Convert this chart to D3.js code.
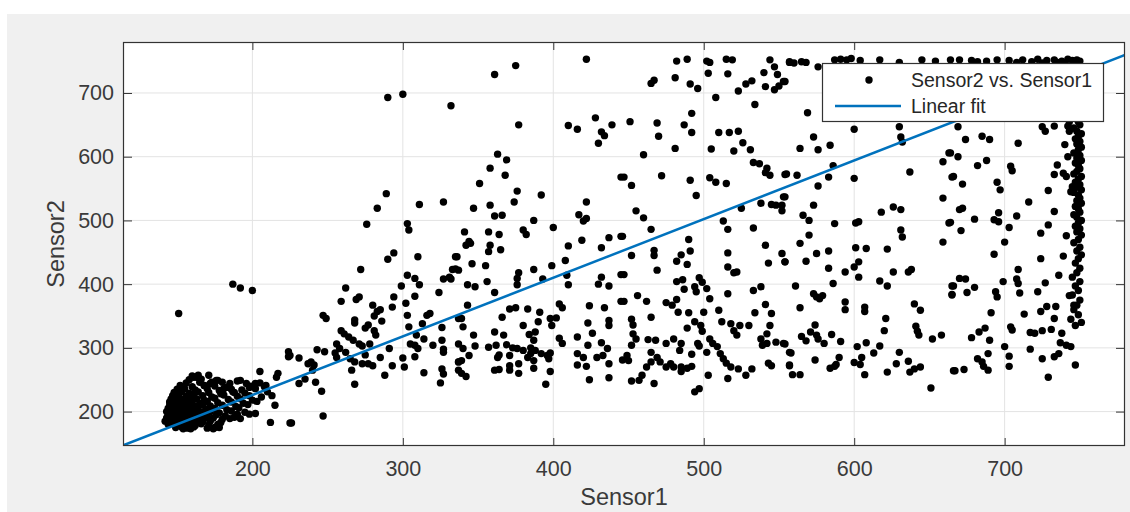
<!DOCTYPE html>
<html><head><meta charset="utf-8">
<script src="https://cdn.jsdelivr.net/npm/d3@7"></script>
<style>body{margin:0;background:#fff;} svg{display:block;font-family:"Liberation Sans",Arial,Helvetica,sans-serif;}</style>
</head><body><svg id="c" width="1130" height="512"></svg>
<script>
// ---------------- DATA ----------------
const xLabel = "Sensor1";
const yLabel = "Sensor2";
const seriesNames = ["Sensor2 vs. Sensor1", "Linear fit"];
const xTicks = [200, 300, 400, 500, 600, 700];
const yTicks = [200, 300, 400, 500, 600, 700];
const xDomain = [114, 780];
const yDomain = [146, 780];
// linear fit: Sensor2 = slope * Sensor1 + intercept
const fitSlope = 0.92;
const fitIntercept = 42;

// dense low cluster
const clusterPoints = [
[160,256],[163,254],[171,257],
[158,250],[166,251],[176,249],[190,248],
[156,245],[165,246],[172,244],[180,246],[196,244],[205,245],
[152,241],[160,239],[168,241],[175,240],[183,238],[199,240],[208,239],
[150,235],[155,236],[162,234],[170,236],[178,233],[186,235],[193,234],[202,236],
[148,230],[153,231],[158,229],[164,231],[171,230],[179,228],[188,230],[195,229],[210,231],
[147,225],[151,226],[156,224],[161,226],[167,225],[173,223],[181,226],[190,224],[198,225],[206,223],
[146,220],[150,221],[154,219],[159,221],[163,220],[168,218],[175,221],[184,219],[192,220],[200,218],
[145,215],[149,216],[152,214],[156,216],[160,215],[165,213],[170,216],[177,214],[186,215],[194,213],[203,216],
[145,210],[148,211],[151,209],[155,211],[158,210],[162,208],[167,211],[172,209],[180,210],[189,208],[197,211],
[144,205],[147,206],[150,204],[153,206],[157,205],[160,203],[164,206],[169,204],[175,205],[183,203],[191,206],
[143,200],[146,201],[149,199],[152,201],[155,200],[159,198],[163,201],[167,199],[172,200],[178,198],[186,201],[195,199],
[144,195],[147,196],[150,194],[154,196],[157,195],[161,193],[165,196],[170,194],[176,195],[182,193],[190,196],
[143,190],[146,191],[149,189],[152,191],[156,190],[160,188],[164,191],[168,189],[174,190],[180,188],[188,191],
[142,185],[145,186],[148,184],[152,186],[155,185],[159,183],[163,186],[167,184],[172,185],[179,183],
[144,180],[148,181],[151,179],[155,181],[158,180],[162,178],[166,181],[171,179],[177,180],
[149,175],[153,176],[157,174],[161,176],[170,174],[175,175],
[151,354],[187,400],[192,394],[200,390],[224,294],[224,286],[205,263],[217,260],[216,254],[192,249],
[212,183],[225,182],[215,210],[202,197],[161,254],[164,257],[151,233],[173,246],[177,249],[185,244],
[187,231],[198,238],[202,244],[209,241],[213,225],[168,241],[181,236],[185,189],[192,189],[198,196],
[154,173],[159,173],[174,173],[178,175]
];

// 225 - 340
const lowMidPoints = [
[290,693],[300,698],[332,680],[289,542],[283,519],[276,494],[303,495],[304,485],[311,525],[327,529],
[294,449],[290,439],[310,443],[272,423],[335,443],[303,414],[308,409],[311,399],[299,397],[327,408],
[331,411],[333,423],[335,424],[332,408],[262,394],[271,380],[269,376],[259,373],[294,380],[302,370],
[308,381],[324,387],[280,367],[293,364],[283,357],[285,360],[281,350],[247,351],[249,346],[268,344],
[268,339],[286,342],[277,336],[275,331],[303,351],[318,354],[316,351],[313,338],[281,327],[282,320],
[304,333],[259,327],[261,322],[264,317],[267,312],[271,306],[273,303],[278,306],[309,320],[314,314],
[305,306],[308,304],[310,299],[320,304],[326,332],[326,312],[327,298],[256,306],[258,299],[255,292],
[256,285],[262,293],[265,283],[268,278],[275,289],[273,275],[277,275],[280,272],[285,285],[291,299],
[293,272],[300,284],[301,270],[308,286],[266,265],[268,243],[288,257],[314,261],[327,293],[326,267],
[327,259],[325,245],[337,278],[337,265],[243,297],[248,294],[231,284],[237,275],[239,278],[241,273],
[240,265],[242,246],[235,251],[231,244],[246,232],[247,193],[226,182],[225,288],[337,346],[337,306]
];

// 335 - 448
const midPoints = [
[361,729],[375,743],[422,753],[377,650],[410,649],[416,643],[428,661],[439,650],[432,639],[434,633],
[430,621],[363,604],[369,595],[358,582],[368,571],[351,558],[445,568],[376,546],[374,529],[392,540],
[347,519],[358,524],[361,507],[366,508],[422,529],[417,509],[420,499],[422,503],[387,500],[380,485],
[382,478],[400,489],[341,482],[357,482],[364,478],[344,467],[345,464],[342,461],[358,461],[357,451],
[365,454],[336,443],[337,422],[346,432],[355,429],[419,469],[410,460],[437,473],[432,457],[445,475],
[408,437],[399,429],[387,423],[377,418],[376,409],[376,399],[393,408],[409,414],[410,399],[432,411],
[430,400],[437,397],[445,415],[356,404],[343,399],[348,396],[361,387],[343,367],[404,369],[406,363],
[424,366],[434,363],[445,373],[371,361],[375,363],[383,361],[391,356],[366,348],[339,346],[340,333],
[398,346],[402,347],[399,335],[390,341],[380,335],[423,339],[437,343],[437,335],[361,325],[367,320],
[347,320],[384,321],[388,325],[387,312],[404,315],[406,307],[416,317],[426,323],[340,299],[348,303],
[357,301],[362,304],[369,305],[373,300],[376,299],[380,296],[385,300],[388,296],[423,304],[432,308],
[436,299],[344,288],[337,278],[339,280],[363,285],[364,289],[371,288],[383,285],[385,291],[387,280],
[392,291],[396,288],[398,292],[397,283],[416,291],[420,285],[429,285],[433,288],[437,275],[446,281],
[377,275],[361,265],[364,266],[371,265],[371,272],[377,260],[387,268],[416,273],[422,271],[339,260],
[342,255],[398,263],[395,243],[424,250],[437,253]
];

// 445 - 558
const midHighPoints = [
[482,750],[489,753],[502,750],[504,748],[515,753],[519,752],[544,752],[547,741],[557,748],[481,724],
[467,720],[465,715],[503,731],[516,730],[540,732],[549,729],[491,714],[496,707],[532,719],[528,714],
[523,703],[541,710],[553,718],[550,711],[547,705],[508,693],[534,682],[492,668],[451,655],[469,653],
[470,632],[487,650],[492,638],[510,638],[517,638],[523,640],[526,622],[531,611],[520,609],[505,612],
[481,613],[460,603],[533,591],[537,589],[542,582],[541,575],[544,571],[554,572],[447,568],[452,555],
[472,570],[491,563],[504,567],[508,560],[515,558],[495,539],[553,537],[552,524],[538,527],[545,525],
[548,524],[552,515],[525,519],[455,515],[460,504],[465,486],[513,499],[516,486],[533,488],[446,475],
[452,445],[467,453],[467,445],[490,470],[491,452],[485,446],[482,436],[489,431],[469,422],[447,415],
[516,449],[516,427],[520,418],[522,419],[541,461],[543,433],[552,448],[554,435],[482,404],[486,407],
[497,410],[499,403],[494,396],[495,388],[502,393],[487,392],[504,377],[516,385],[533,390],[538,396],
[447,373],[456,382],[462,373],[475,371],[479,367],[482,376],[483,356],[490,355],[500,356],[510,359],
[541,368],[545,354],[534,355],[452,345],[453,336],[465,348],[489,331],[494,341],[498,335],[499,326],
[512,341],[518,338],[520,327],[522,320],[524,335],[530,335],[544,335],[542,322],[453,322],[455,314],
[452,304],[463,313],[468,312],[475,307],[480,314],[485,307],[484,296],[497,303],[496,307],[504,314],
[506,307],[509,302],[502,293],[511,291],[513,283],[515,276],[518,270],[523,267],[528,257],[532,267],
[538,314],[539,304],[542,307],[548,309],[553,307],[557,293],[557,273],[449,288],[450,280],[465,293],
[469,285],[471,278],[465,278],[462,270],[475,270],[478,275],[480,270],[485,270],[489,268],[492,271],
[485,263],[492,290],[459,257],[457,249],[452,248],[467,244],[497,236],[494,231],[503,257],[516,252],
[543,276],[545,272]
];

// 554 - 668
const highPoints = [
[557,749],[560,747],[565,749],[568,748],[576,741],[587,752],[591,753],[595,752],[598,754],[617,752],
[604,751],[630,748],[645,752],[664,752],[654,750],[554,718],[569,669],[573,631],[564,613],[576,611],
[584,618],[600,643],[630,647],[631,631],[632,623],[586,586],[555,573],[562,571],[583,568],[576,554],
[600,566],[637,576],[663,606],[659,592],[665,568],[659,535],[573,524],[554,537],[566,508],[570,500],
[587,495],[601,496],[603,498],[618,513],[626,521],[631,517],[631,485],[632,474],[663,496],[659,466],
[570,477],[564,464],[575,448],[583,452],[601,457],[608,456],[622,455],[554,435],[568,436],[583,425],
[594,419],[600,427],[603,435],[603,411],[617,405],[622,397],[626,419],[636,419],[638,423],[561,397],
[573,385],[575,380],[577,377],[579,382],[586,401],[594,372],[594,360],[607,364],[607,357],[564,363],
[640,369],[644,359],[621,346],[620,327],[574,336],[565,318],[568,311],[571,325],[575,320],[576,314],
[580,307],[585,321],[591,310],[641,334],[642,326],[643,320],[652,314],[658,320],[554,306],[558,292],
[602,302],[608,308],[617,303],[613,292],[630,293],[557,272],[559,258],[564,258],[574,281],[584,268],
[587,271],[588,274],[590,285],[600,277],[604,274],[605,285],[607,258],[622,262],[628,275],[636,279],
[637,262],[640,267],[644,270],[651,237],[666,264],[665,397],[665,384]
];

// 664 - 752 (incl. saturated band near 750)
const edgePoints = [
[670,752],[678,751],[688,750],[695,752],[703,751],[712,752],[718,749],[722,753],[728,751],[733,752],
[738,750],[742,753],[745,751],[748,752],[750,750],[735,748],[725,747],[682,749],[708,748],[740,747],
[669,647],[674,627],[685,632],[690,627],[709,621],[725,647],[727,640],[733,648],[742,648],[743,640],
[740,619],[664,606],[669,600],[682,586],[688,594],[704,585],[705,578],[666,569],[672,557],[735,587],
[733,572],[729,547],[695,560],[697,548],[716,529],[672,519],[670,517],[680,502],[696,512],[693,501],
[696,498],[708,507],[703,489],[733,514],[729,493],[724,480],[664,497],[671,484],[700,466],[693,447],
[741,476],[724,440],[739,444],[709,423],[708,408],[709,401],[699,404],[694,388],[695,380],[710,386],
[722,388],[727,402],[736,414],[670,409],[674,408],[666,397],[665,383],[675,387],[680,395],[691,355],
[713,353],[724,357],[728,365],[734,365],[733,346],[743,382],[746,367],[704,333],[705,328],[717,324],
[720,323],[725,327],[731,329],[738,323],[737,308],[741,304],[744,302],[678,316],[683,325],[687,331],
[690,312],[700,302],[717,298],[682,283],[685,278],[686,271],[689,265],[689,291],[667,264],[673,266],
[703,287],[703,271],[725,283],[733,286],[736,291],[729,254],[747,273],
[739,574],[741,569],[745,553],[744,545],[742,600],[743,655],
[749,745],[750,738],[748,730],[751,722],[747,715],[750,708],
[748,700],[750,695],[747,690],[749,685],[751,680],[746,676],[750,672],[748,668],[751,663],[747,660],
[749,655],[750,650],[746,645],[748,640],[751,636],[749,632],[747,628],[750,624],[748,620],[751,615],
[749,611],[746,606],[750,602],[748,598],[751,594],[747,590],[749,586],[750,581],[748,577],[746,573],
[751,569],[749,565],[747,560],[750,556],[748,552],[751,548],[746,544],[749,540],[750,535],[748,531],
[751,527],[747,522],[749,518],[750,513],[746,509],[748,505],[751,500],[749,496],[747,491],[750,487],
[748,482],[751,477],[749,470],[746,465],[750,458],[748,452],[751,446],[749,440],[747,433],[750,425],
[748,418],[745,411],[750,404],[747,397],[749,390],[745,383],[750,375],[748,367],[746,360],[749,352],
[744,345],[751,340],[747,335]
];

const scatterData = [].concat(clusterPoints, lowMidPoints, midPoints, midHighPoints, highPoints, edgePoints);

// ---------------- DRAW ----------------
const svg = d3.select("#c");
const W = 1130, H = 512;
const m = {left: 123, right: 1125, top: 42, bottom: 446};
const axisColor = "#333333";
const gridColor = "#e3e3e3";
const fitColor = "#0072BD";
const markerR = 3.7;

svg.append("rect").attr("x", 7).attr("y", 14).attr("width", W - 7).attr("height", H - 14).attr("fill", "#f0f0f0");
svg.append("rect").attr("x", m.left).attr("y", m.top).attr("width", m.right - m.left).attr("height", m.bottom - m.top).attr("fill", "#fff");

const x = d3.scaleLinear().domain(xDomain).range([m.left, m.right]);
const y = d3.scaleLinear().domain(yDomain).range([m.bottom, m.top]);

// grid
const grid = svg.append("g");
grid.selectAll("line.gx").data(xTicks).enter().append("line")
  .attr("x1", d => x(d)).attr("x2", d => x(d)).attr("y1", m.top).attr("y2", m.bottom)
  .attr("stroke", gridColor).attr("stroke-width", 1);
grid.selectAll("line.gy").data(yTicks).enter().append("line")
  .attr("y1", d => y(d)).attr("y2", d => y(d)).attr("x1", m.left).attr("x2", m.right)
  .attr("stroke", gridColor).attr("stroke-width", 1);

svg.append("clipPath").attr("id", "clip").append("rect")
  .attr("x", m.left).attr("y", m.top).attr("width", m.right - m.left).attr("height", m.bottom - m.top);

const plot = svg.append("g").attr("clip-path", "url(#clip)");
plot.selectAll("circle").data(scatterData).enter().append("circle")
  .attr("cx", d => x(d[0])).attr("cy", d => y(d[1])).attr("r", markerR).attr("fill", "#000");

plot.append("line")
  .attr("x1", x(xDomain[0])).attr("y1", y(fitSlope * xDomain[0] + fitIntercept))
  .attr("x2", x(xDomain[1])).attr("y2", y(fitSlope * xDomain[1] + fitIntercept))
  .attr("stroke", fitColor).attr("stroke-width", 2.5);

// axes
function styleAxis(g) {
  g.select(".domain").remove();
  g.selectAll(".tick line").attr("stroke", axisColor);
  g.selectAll(".tick text").attr("fill", "#3a3a3a").attr("font-size", 21.5)
    .attr("font-family", '"Liberation Sans", Arial, sans-serif');
}
svg.append("g").attr("transform", `translate(0,${m.bottom})`)
  .call(d3.axisBottom(x).tickValues(xTicks).tickSizeInner(-8).tickSizeOuter(0).tickPadding(15))
  .call(styleAxis);
svg.append("g").attr("transform", `translate(0,${m.top})`)
  .call(d3.axisTop(x).tickValues(xTicks).tickSizeInner(-8).tickSizeOuter(0).tickFormat(""))
  .call(styleAxis);
svg.append("g").attr("transform", `translate(${m.left},0)`)
  .call(d3.axisLeft(y).tickValues(yTicks).tickSizeInner(-9).tickSizeOuter(0).tickPadding(9))
  .call(styleAxis);
svg.append("g").attr("transform", `translate(${m.right},0)`)
  .call(d3.axisRight(y).tickValues(yTicks).tickSizeInner(-9).tickSizeOuter(0).tickFormat(""))
  .call(styleAxis);

svg.append("rect").attr("x", m.left + 0.5).attr("y", m.top + 0.5)
  .attr("width", m.right - m.left - 1).attr("height", m.bottom - m.top - 1)
  .attr("fill", "none").attr("stroke", axisColor).attr("stroke-width", 1.2);

// axis labels
svg.append("text").attr("x", (m.left + m.right) / 2).attr("y", 505)
  .attr("text-anchor", "middle").attr("font-size", 23.5).attr("fill", "#3a3a3a").text(xLabel);
svg.append("text").attr("transform", `translate(64,${(m.top + m.bottom) / 2}) rotate(-90)`)
  .attr("text-anchor", "middle").attr("font-size", 23.5).attr("fill", "#3a3a3a").text(yLabel);

// legend
const lg = svg.append("g");
lg.append("rect").attr("x", 822.5).attr("y", 63.5).attr("width", 281).attr("height", 58)
  .attr("fill", "#fff").attr("stroke", axisColor).attr("stroke-width", 1.2);
lg.append("circle").attr("cx", 869).attr("cy", 80).attr("r", markerR).attr("fill", "#000");
lg.append("line").attr("x1", 835).attr("x2", 901).attr("y1", 106).attr("y2", 106)
  .attr("stroke", fitColor).attr("stroke-width", 2.5);
lg.append("text").attr("x", 911).attr("y", 87).attr("font-size", 19.5).attr("fill", "#262626").text(seriesNames[0]);
lg.append("text").attr("x", 911).attr("y", 113).attr("font-size", 19.5).attr("fill", "#262626").text(seriesNames[1]);
</script></body></html>
